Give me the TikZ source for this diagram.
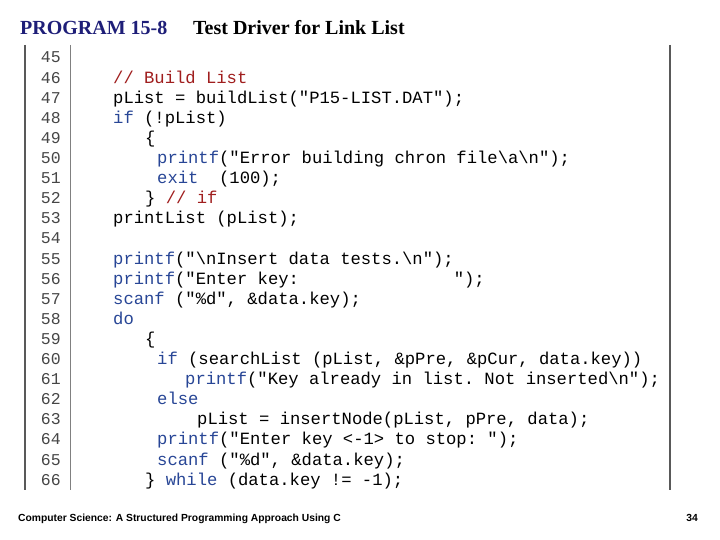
\documentclass[tikz,border=0pt]{standalone}
\usepackage{fontspec}
\setmainfont{Liberation Serif}
\setmonofont{Liberation Mono}
\newfontfamily\foot{Liberation Sans}
\definecolor{kw}{RGB}{40,70,150}
\definecolor{cm}{RGB}{160,30,30}
\definecolor{ttl}{RGB}{30,30,120}
\definecolor{num}{RGB}{70,70,70}
\newcommand{\kw}[1]{\textcolor{kw}{#1}}
\newcommand{\cmt}[1]{\textcolor{cm}{#1}}
\begin{document}
\begin{tikzpicture}[x=1pt,y=-1pt,
  code/.style={anchor=base west,inner sep=0pt,font=\ttfamily\fontsize{17.2}{17}\selectfont},
  lnum/.style={anchor=base east,inner sep=0pt,text=num,font=\ttfamily\fontsize{16.5}{16}\selectfont}]
\useasboundingbox[fill=white] (0,0) rectangle (720,540);
\node[anchor=base west,inner sep=0pt,text=ttl,font=\bfseries\fontsize{20}{20}\selectfont] (t1) at (20,35) {PROGRAM 15-8};
\node[anchor=base west,inner sep=0pt,font=\bfseries\fontsize{20}{20}\selectfont] (t2) at (193,35) {Test Driver for Link List};
\draw[line width=1.2pt,gray!70!black] (25,45) -- (25,490);
\draw[line width=1.2pt,gray!70!black] (670,45) -- (670,490);
\draw[line width=0.6pt,gray] (70,45) -- (70,490);
\foreach \n [count=\i from 0] in {45,...,66}
  \node[lnum] (n\n) at (61,{63+\i*20.1}) {\n};
\def\Y#1{{63+(#1-45)*20.1}}
\node[code] (l46) at (113,\Y{46}) {\cmt{// Build List}};
\node[code] (l47) at (113,\Y{47}) {pList = buildList("P15-LIST.DAT");};
\node[code] (l48) at (113,\Y{48}) {\kw{if} (!pList)};
\node[code] (l49) at (145,\Y{49}) {\{};
\node[code] (l50) at (157,\Y{50}) {\kw{printf}("Error building chron file\textbackslash a\textbackslash n");};
\node[code] (l51) at (157,\Y{51}) {\kw{exit}\ \ (100);};
\node[code] (l52) at (145,\Y{52}) {\} \cmt{// if}};
\node[code] (l53) at (113,\Y{53}) {printList (pList);};
\node[code] (l55) at (113,\Y{55}) {\kw{printf}("\textbackslash nInsert data tests.\textbackslash n");};
\node[code] (l56) at (113,\Y{56}) {\kw{printf}("Enter key:\ \ \ \ \ \ \ \ \ \ \ \ \ \ \ ");};
\node[code] (l57) at (113,\Y{57}) {\kw{scanf} ("\%d", \&data.key);};
\node[code] (l58) at (113,\Y{58}) {\kw{do}};
\node[code] (l59) at (145,\Y{59}) {\{};
\node[code] (l60) at (157,\Y{60}) {\kw{if} (searchList (pList, \&pPre, \&pCur, data.key))};
\node[code] (l61) at (185,\Y{61}) {\kw{printf}("Key already in list. Not inserted\textbackslash n");};
\node[code] (l62) at (157,\Y{62}) {\kw{else}};
\node[code] (l63) at (197,\Y{63}) {pList = insertNode(pList, pPre, data);};
\node[code] (l64) at (157,\Y{64}) {\kw{printf}("Enter key <-1> to stop: ");};
\node[code] (l65) at (157,\Y{65}) {\kw{scanf} ("\%d", \&data.key);};
\node[code] (l66) at (145,\Y{66}) {\} \kw{while} (data.key != -1);};
\node[anchor=base west,inner sep=0pt,font=\foot\bfseries\fontsize{10.3}{11}\selectfont] (f1) at (18,521) {Computer Science: A Structured Programming Approach Using C};
\node[anchor=base east,inner sep=0pt,font=\foot\bfseries\fontsize{10.3}{11}\selectfont] (f2) at (698,521) {34};
\end{tikzpicture}
\end{document}
